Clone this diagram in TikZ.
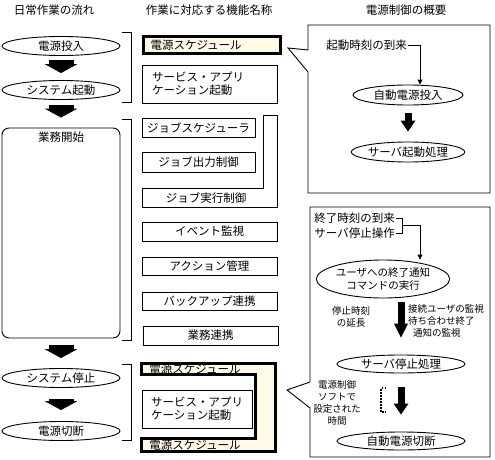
\documentclass[tikz,border=0pt]{standalone}
\usepackage{fontspec}
\setmainfont{Noto Sans CJK JP}
\usepackage{xcolor}
\definecolor{sched_cream}{RGB}{255, 250, 232}
\usepackage{tikz}
\usetikzlibrary{arrows.meta, positioning, shapes.geometric, calc}

\begin{document}
\begin{tikzpicture}[x=1pt, y=-1pt,
    every node/.style={font=\fontsize{11.5}{13}\selectfont, inner sep=1pt},
    flow/.style={draw, ellipse, minimum width=118pt, minimum height=19pt, inner sep=0pt},
    func/.style={draw, minimum width=135pt, minimum height=19pt, inner sep=0pt},
    note/.style={font=\fontsize{9.5}{12}\selectfont, align=center},
    fatarrow/.style={line width=25pt, -{Triangle[width=33pt, length=9pt, line width=0pt]}},
    slimarrow/.style={line width=7pt, -{Triangle[width=15pt, length=11pt, line width=0pt]}},
    tiparrow/.style={-{Triangle[width=5pt, length=5pt]}},
    line width=0.9pt]
        \useasboundingbox (0,0) rectangle (495,460);
        % En-tetes
        \node (hdrflow) at (54,10) {日常作業の流れ};
        \node (hdrfunc) at (209,10) {作業に対応する機能名称};
        \node (hdrctrl) at (406,10) {電源制御の概要};
        % Flux quotidien
        \node[flow] (poweron) at (61,46) {電源投入};
        \node[flow] (sysup) at (61,90) {システム起動};
        \node[draw, rounded corners=7pt, minimum width=118pt, minimum height=210pt,
          label={[anchor=north, yshift=-3pt]north:業務開始}] (work) at (61,233) {};
        \node[flow] (sysdown) at (61,378) {システム停止};
        \node[flow] (poweroff) at (61,431) {電源切断};
        \draw[fatarrow, shorten <=4pt, shorten >=7pt] (poweron) -- (sysup);
        \draw[fatarrow, shorten <=5pt, shorten >=10pt] (sysup) -- (work);
        \draw[fatarrow, shorten <=7pt, shorten >=10pt] (work) -- (sysdown);
        \draw[fatarrow, shorten <=11pt, shorten >=11pt] (sysdown) -- (poweroff);
        % Crochets
        \draw (122,32) -| (131,102) -- (122,102);
        \draw (122,119) -| (131,340) -- (122,340);
        \draw (122,364) -| (131,440) -- (122,440);
        % Fonctions
        \node[draw, line width=3pt, fill=sched_cream, text width=123pt, inner xsep=7pt,
          minimum height=17pt, inner ysep=0pt, align=left] (schedon) at (212,45) {電源スケジュール};
        \node[func, minimum height=38pt, text width=115pt, inner xsep=10pt, align=left]
          (svcon) at (209.5,84) {サービス・アプリ\\ケーション起動};
        \node[func, minimum width=113pt] (jobsched) at (198.5,127.5) {ジョブスケジューラ};
        \node[func, minimum width=113pt, minimum height=20pt] (jobout) at (198.5,162) {ジョブ出力制御};
        \draw (263,115) -- (277,115) -- (277,207) -- (142,207) -- (142,188) -- (263,188) -- cycle;
        \node (jobexec) at (206,198) {ジョブ実行制御};
        \node[func] (event) at (209.5,231.5) {イベント監視};
        \node[func, minimum height=18pt] (action) at (209.5,266) {アクション管理};
        \node[func, minimum height=18pt] (backup) at (209.5,301) {バックアップ連携};
        \node[func] (bizlink) at (210.5,335.5) {業務連携};
        % Bloc de fin
        \draw[line width=3pt, fill=sched_cream] (141.5,363.5) -- (275.5,363.5) -- (275.5,451.5)
          -- (141.5,451.5) -- (141.5,438.5) -- (255.5,438.5) -- (255.5,374.5) -- (141.5,374.5) -- cycle;
        \node[anchor=west] (schedoff) at (148,369) {電源スケジュール};
        \node[anchor=west] (schedend) at (148,445) {電源スケジュール};
        \node[draw, minimum width=110pt, minimum height=38pt, align=left] (svcoff) at (197,409)
          {サービス・アプリ\\ケーション起動};
        % Bulle du haut
        \draw (308,25) -- (490,25) -- (490,193) -- (308,193) -- (308,72) -- (288,48) -- (308,50) -- cycle;
        \node[anchor=west] (tstart) at (325,45) {起動時刻の到来};
        \node[flow, minimum width=110pt, minimum height=20pt] (autoon) at (408,95) {自動電源投入};
        \node[flow, minimum width=110pt, minimum height=20pt] (srvstart) at (408,152) {サーバ起動処理};
        \draw[tiparrow] (tstart.east) -| ([xshift=12pt]autoon.north);
        \draw[slimarrow, shorten <=8pt, shorten >=10pt] (autoon) -- (srvstart);
        % Bulle du bas
        \draw (310,207) -- (490,207) -- (490,457) -- (310,457) -- (310,408) -- (287,390) -- (310,382) -- cycle;
        \node[anchor=west] (tend) at (313,218) {終了時刻の到来};
        \node[anchor=west] (tstop) at (313,233) {サーバ停止操作};
        \node[flow, minimum width=120pt, minimum height=38pt, align=center,
          font=\fontsize{10.5}{13}\selectfont] (notify) at (383,279) {ユーザへの終了通知\\コマンドの実行};
        \node[flow, minimum width=128pt, minimum height=18pt] (srvstop) at (401,364) {サーバ停止処理};
        \node[flow, minimum width=128pt, minimum height=18pt] (autooff) at (401,441) {自動電源切断};
        \draw (tend.east) -- ++(6,0) |- (tstop.east);
        \draw[tiparrow] ($(tend.east)!.5!(tstop.east)+(6,0)$) -| ([xshift=37pt]notify.north);
        \draw[line width=7pt, -{Triangle[width=14pt, length=14pt, line width=0pt]},
          shorten <=4pt, shorten >=17pt] (srvstop.north |- notify.south) -- (srvstop.north);
        \draw[slimarrow, shorten <=14pt, shorten >=17pt] (srvstop) -- (autooff);
        \node[note] (extend) at (351,317) {停止時刻\\の延長};
        \node[note, align=left] (waitusr) at (446,321) {接続ユーザの監視\\待ち合わせ終了\\\hspace{5pt}通知の監視};
        \node[note] (ctrltime) at (337,403) {電源制御\\ソフトで\\設定された\\時間};
        \draw[dash pattern=on 1.5pt off 1.5pt, line width=1.2pt] (386,388) -| (381,412) -- (386,412);
      \end{tikzpicture}
\end{document}
